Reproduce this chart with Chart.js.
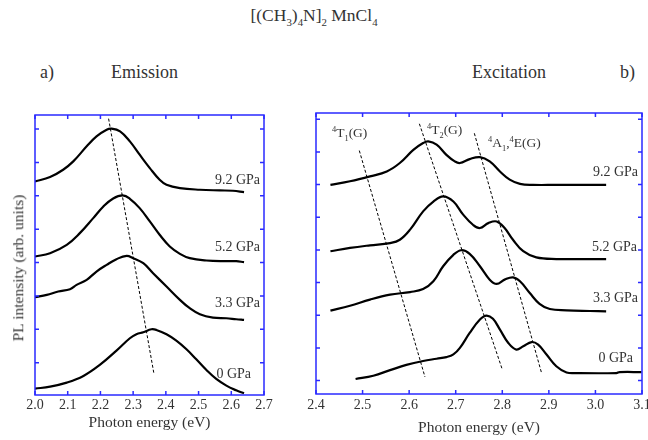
<!DOCTYPE html>
<html><head><meta charset="utf-8">
<script src="https://cdn.jsdelivr.net/npm/chart.js@4"></script>
<style>
body{margin:0;background:#fff;}
#wrap{position:relative;width:648px;height:440px;overflow:hidden;font-family:"Liberation Serif","Times New Roman",serif;color:#333;background:#fff;}
.t{position:absolute;white-space:nowrap;line-height:1;}
canvas{position:absolute;}
sub,sup{font-size:0.62em;line-height:0;}
</style></head>
<body>
<div id="wrap">
  <canvas id="cA" width="280" height="340" style="left:0;top:100px;width:280px;height:340px"></canvas>
  <canvas id="cB" width="358" height="340" style="left:290px;top:100px;width:358px;height:340px"></canvas>

  <div class="t" style="left:314px;top:16px;transform:translate(-50%,-50%);font-size:17.5px">[(CH<sub>3</sub>)<sub>4</sub>N]<sub>2</sub> MnCl<sub>4</sub></div>
  <div class="t" style="left:40px;top:72px;transform:translateY(-50%);font-size:18px">a)</div>
  <div class="t" style="left:111px;top:72px;transform:translateY(-50%);font-size:18px">Emission</div>
  <div class="t" style="left:472px;top:72px;transform:translateY(-50%);font-size:18px">Excitation</div>
  <div class="t" style="left:620px;top:72px;transform:translateY(-50%);font-size:18px">b)</div>

  <div class="t" style="left:18px;top:268px;transform:translate(-50%,-50%) rotate(-90deg);font-size:15.5px">PL intensity (arb. units)</div>

  <div class="t" style="right:388px;top:180px;transform:translateY(-50%);font-size:14px">9.2 GPa</div>
  <div class="t" style="right:388px;top:247px;transform:translateY(-50%);font-size:14px">5.2 GPa</div>
  <div class="t" style="right:388px;top:303px;transform:translateY(-50%);font-size:14px">3.3 GPa</div>
  <div class="t" style="right:397px;top:374px;transform:translateY(-50%);font-size:14px">0 GPa</div>

  <div class="t" style="right:10px;top:172px;transform:translateY(-50%);font-size:14px">9.2 GPa</div>
  <div class="t" style="right:11px;top:247px;transform:translateY(-50%);font-size:14px">5.2 GPa</div>
  <div class="t" style="right:10px;top:298px;transform:translateY(-50%);font-size:14px">3.3 GPa</div>
  <div class="t" style="right:15px;top:358px;transform:translateY(-50%);font-size:14px">0 GPa</div>

  <div class="t" style="left:332px;top:133px;transform:translateY(-50%);font-size:13.5px"><sup>4</sup>T<sub>1</sub>(G)</div>
  <div class="t" style="left:427px;top:130px;transform:translateY(-50%);font-size:13.5px"><sup>4</sup>T<sub>2</sub>(G)</div>
  <div class="t" style="left:488px;top:143px;transform:translateY(-50%);font-size:13.5px"><sup>4</sup>A<sub>1</sub>,<sup>4</sup>E(G)</div>
</div>
<script>
// ---------- DATA ----------
// a) Emission: photon energy (eV) and PL intensity (arb. units, offset per pressure)
const emTicksX = [2.0, 2.1, 2.2, 2.3, 2.4, 2.5, 2.6, 2.7];
const emTicksY = [1, 2, 3, 4, 5, 6, 7, 8];

const em0_E = [2.000,2.046,2.097,2.148,2.198,2.249,2.290,2.310,2.331,2.356,2.371,2.402,2.432,2.463,2.493,2.524,2.554,2.585,2.615,2.639];
const em0_I = [0.22,0.28,0.40,0.60,0.93,1.36,1.73,1.85,1.91,2.00,1.98,1.85,1.66,1.40,1.10,0.78,0.51,0.31,0.17,0.08];

const em33_E = [2.000,2.036,2.071,2.107,2.127,2.158,2.188,2.219,2.249,2.280,2.300,2.331,2.361,2.402,2.443,2.473,2.504,2.544,2.585,2.615,2.639];
const em33_I = [2.96,3.03,3.13,3.20,3.33,3.48,3.73,3.93,4.10,4.20,4.13,3.98,3.68,3.28,2.88,2.63,2.45,2.35,2.33,2.30,2.28];

const em52_E = [2.000,2.046,2.097,2.137,2.178,2.209,2.239,2.268,2.290,2.320,2.351,2.381,2.412,2.443,2.473,2.524,2.585,2.615,2.639];
const em52_I = [4.18,4.28,4.53,4.88,5.33,5.68,5.92,6.01,5.91,5.63,5.23,4.83,4.48,4.26,4.13,4.06,4.04,4.04,4.01];

const em92_E = [2.000,2.046,2.086,2.117,2.158,2.188,2.219,2.234,2.260,2.290,2.320,2.351,2.381,2.402,2.443,2.504,2.565,2.605,2.639];
const em92_I = [6.43,6.56,6.78,7.03,7.48,7.78,7.98,8.01,7.93,7.63,7.23,6.83,6.48,6.33,6.23,6.18,6.16,6.15,6.11];

const emShift_E = [2.225, 2.363];
const emShift_I = [8.31, 0.70];

// b) Excitation
const exTicksX = [2.4, 2.5, 2.6, 2.7, 2.8, 2.9, 3.0, 3.1];
const exTicksY = [0, 1, 2, 3, 4, 5, 6, 7, 8];

const ex0_E = [2.485,2.523,2.559,2.594,2.630,2.659,2.680,2.695,2.709,2.730,2.752,2.766,2.780,2.795,2.813,2.830,2.845,2.863,2.877,2.895,2.916,2.938,2.959,3.045,3.052,3.099];
const ex0_I = [0.05,0.15,0.32,0.48,0.60,0.67,0.72,0.80,1.00,1.46,1.87,1.99,1.89,1.56,1.15,0.95,1.05,1.18,1.10,0.80,0.44,0.25,0.23,0.23,0.26,0.26];

const ex33_E = [2.431,2.473,2.516,2.559,2.602,2.630,2.652,2.673,2.695,2.712,2.730,2.752,2.773,2.788,2.805,2.823,2.838,2.859,2.880,2.902,2.938,2.988,3.023];
const ex33_I = [2.14,2.29,2.48,2.63,2.71,2.80,3.04,3.50,3.85,3.99,3.88,3.50,3.09,2.96,3.09,3.16,3.04,2.68,2.35,2.19,2.15,2.13,2.12];

const ex52_E = [2.431,2.473,2.516,2.559,2.580,2.602,2.630,2.652,2.673,2.695,2.716,2.737,2.752,2.770,2.788,2.805,2.823,2.845,2.873,2.916,2.988,3.023];
const ex52_I = [3.96,4.06,4.14,4.21,4.31,4.62,5.18,5.48,5.64,5.48,5.08,4.77,4.67,4.82,4.87,4.67,4.31,3.96,3.77,3.72,3.72,3.72];

const ex92_E = [2.431,2.473,2.516,2.552,2.580,2.609,2.630,2.641,2.659,2.680,2.698,2.709,2.730,2.752,2.773,2.795,2.816,2.838,2.866,2.916,3.023];
const ex92_I = [5.99,6.10,6.25,6.40,6.66,7.06,7.27,7.32,7.22,6.91,6.71,6.66,6.78,6.84,6.71,6.40,6.15,6.02,5.99,5.99,5.99];

const exT1_E = [2.493, 2.634];  const exT1_I = [7.04, 0.11];
const exT2_E = [2.622, 2.800];  const exT2_I = [7.86, 0.34];
const exA1_E = [2.740, 2.884];  const exA1_I = [7.57, 0.25];

// ---------- RENDER ----------
const AXIS = '#2a2aff';
const TXT = '#333';
Chart.defaults.font.family = '"Liberation Serif","Times New Roman",serif';
Chart.defaults.color = TXT;

const pts = (E, I) => E.map((x, i) => ({x, y: I[i]}));
const curve = (E, I) => ({data: pts(E, I), borderColor: '#000', borderWidth: 2.2, pointRadius: 0, tension: 0.4, fill: false});
const dashed = (E, I) => ({data: pts(E, I), borderColor: '#000', borderWidth: 1, borderDash: [3, 2], pointRadius: 0, tension: 0, fill: false});

const framePlugin = {
  id: 'frame',
  afterDraw(chart) {
    const {ctx, chartArea: a, scales: {x, y}} = chart;
    ctx.save();
    ctx.strokeStyle = AXIS;
    ctx.lineWidth = 1.5;
    ctx.beginPath();
    x.ticks.forEach(t => {
      const p = x.getPixelForValue(t.value);
      ctx.moveTo(p, a.bottom); ctx.lineTo(p, a.bottom - 4);
      ctx.moveTo(p, a.top); ctx.lineTo(p, a.top + 4);
    });
    y.ticks.forEach(t => {
      const p = y.getPixelForValue(t.value);
      ctx.moveTo(a.left, p); ctx.lineTo(a.left + 4, p);
      ctx.moveTo(a.right, p); ctx.lineTo(a.right - 4, p);
    });
    ctx.stroke();
    ctx.strokeRect(a.left, a.top, a.right - a.left, a.bottom - a.top);
    ctx.restore();
  }
};

function makeChart(id, datasets, opt) {
  return new Chart(document.getElementById(id), {
    type: 'line',
    data: {datasets},
    plugins: [framePlugin],
    options: {
      responsive: false, animation: false, devicePixelRatio: 1,
      layout: {padding: opt.padding},
      plugins: {legend: {display: false}, tooltip: {enabled: false}},
      scales: {
        x: {
          type: 'linear', min: opt.xmin, max: opt.xmax,
          grid: {display: false, drawTicks: false},
          border: {display: false},
          afterBuildTicks: s => { s.ticks = opt.xticks.map(v => ({value: v})); },
          afterFit: s => { s.height = opt.xh; s.paddingLeft = 0; s.paddingRight = 0; },
          ticks: {font: {size: 14}, color: TXT, padding: opt.tickPad, maxRotation: 0, autoSkip: false,
                  callback: v => Number(v).toFixed(1)},
          title: {display: true, text: 'Photon energy (eV)', font: {size: 15.5}, color: TXT,
                  padding: {top: 0, bottom: opt.titlePad}}
        },
        y: {
          type: 'linear', min: opt.ymin, max: opt.ymax,
          grid: {display: false, drawTicks: false},
          border: {display: false},
          afterBuildTicks: s => { s.ticks = opt.yticks.map(v => ({value: v})); },
          afterFit: s => { s.width = opt.yw; s.paddingTop = 0; s.paddingBottom = 0; },
          ticks: {display: false}
        }
      }
    }
  });
}

makeChart('cA', [
  curve(em0_E, em0_I), curve(em33_E, em33_I), curve(em52_E, em52_I), curve(em92_E, em92_I),
  dashed(emShift_E, emShift_I)
], {padding: {left: 0, right: 16, top: 15, bottom: 0}, xmin: 2.0, xmax: 2.7, ymin: 0.03, ymax: 8.42,
    xticks: emTicksX, yticks: emTicksY, xh: 45, yw: 35, tickPad: 2, titlePad: 8});

makeChart('cB', [
  curve(ex0_E, ex0_I), curve(ex33_E, ex33_I), curve(ex52_E, ex52_I), curve(ex92_E, ex92_I),
  dashed(exT1_E, exT1_I), dashed(exT2_E, exT2_I), dashed(exA1_E, exA1_I)
], {padding: {left: 0, right: 6, top: 13, bottom: 0}, xmin: 2.4, xmax: 3.1, ymin: -0.41, ymax: 8.19,
    xticks: exTicksX, yticks: exTicksY, xh: 46, yw: 26, tickPad: 3, titlePad: 3});
</script>
</body></html>
